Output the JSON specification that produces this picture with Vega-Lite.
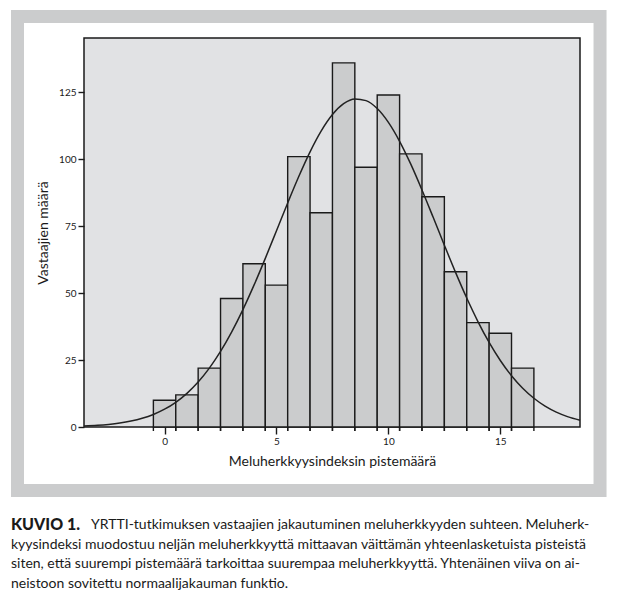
{
  "$schema": "https://vega.github.io/schema/vega-lite/v6.json",
  "background": "white",
  "padding": {"left": 10, "top": 9, "right": 5, "bottom": 1},
  "spacing": 17,
  "config": {"font": "Lato"},
  "datasets": {
    "bars": [
      {"bin_start": -0.5, "bin_end": 0.5, "count": 10},
      {"bin_start": 0.5, "bin_end": 1.5, "count": 12},
      {"bin_start": 1.5, "bin_end": 2.5, "count": 22},
      {"bin_start": 2.5, "bin_end": 3.5, "count": 48},
      {"bin_start": 3.5, "bin_end": 4.5, "count": 61},
      {"bin_start": 4.5, "bin_end": 5.5, "count": 53},
      {"bin_start": 5.5, "bin_end": 6.5, "count": 101},
      {"bin_start": 6.5, "bin_end": 7.5, "count": 80},
      {"bin_start": 7.5, "bin_end": 8.5, "count": 136},
      {"bin_start": 8.5, "bin_end": 9.5, "count": 97},
      {"bin_start": 9.5, "bin_end": 10.5, "count": 124},
      {"bin_start": 10.5, "bin_end": 11.5, "count": 102},
      {"bin_start": 11.5, "bin_end": 12.5, "count": 86},
      {"bin_start": 12.5, "bin_end": 13.5, "count": 58},
      {"bin_start": 13.5, "bin_end": 14.5, "count": 39},
      {"bin_start": 14.5, "bin_end": 15.5, "count": 35},
      {"bin_start": 15.5, "bin_end": 16.5, "count": 22}
    ],
    "curve": [
      {"score": -3.6, "fitted": 0.35},
      {"score": -3, "fitted": 0.61},
      {"score": -2.5, "fitted": 0.96},
      {"score": -2, "fitted": 1.47},
      {"score": -1.5, "fitted": 2.21},
      {"score": -1, "fitted": 3.25},
      {"score": -0.5, "fitted": 4.69},
      {"score": 0, "fitted": 6.65},
      {"score": 0.5, "fitted": 9.23},
      {"score": 1, "fitted": 12.57},
      {"score": 1.5, "fitted": 16.78},
      {"score": 2, "fitted": 21.97},
      {"score": 2.5, "fitted": 28.21},
      {"score": 3, "fitted": 35.52},
      {"score": 3.5, "fitted": 43.84},
      {"score": 4, "fitted": 53.07},
      {"score": 4.5, "fitted": 62.99},
      {"score": 5, "fitted": 73.31},
      {"score": 5.5, "fitted": 83.69},
      {"score": 6, "fitted": 93.66},
      {"score": 6.5, "fitted": 102.79},
      {"score": 7, "fitted": 110.61},
      {"score": 7.5, "fitted": 116.71},
      {"score": 8, "fitted": 120.76},
      {"score": 8.5, "fitted": 122.53},
      {"score": 9, "fitted": 121.91},
      {"score": 9.5, "fitted": 118.94},
      {"score": 10, "fitted": 113.77},
      {"score": 10.5, "fitted": 106.72},
      {"score": 11, "fitted": 98.17},
      {"score": 11.5, "fitted": 88.54},
      {"score": 12, "fitted": 78.32},
      {"score": 12.5, "fitted": 67.92},
      {"score": 13, "fitted": 57.76},
      {"score": 13.5, "fitted": 48.17},
      {"score": 14, "fitted": 39.39},
      {"score": 14.5, "fitted": 31.59},
      {"score": 15, "fitted": 24.83},
      {"score": 15.5, "fitted": 19.14},
      {"score": 16, "fitted": 14.47},
      {"score": 16.5, "fitted": 10.73},
      {"score": 17, "fitted": 7.8},
      {"score": 17.5, "fitted": 5.56},
      {"score": 18, "fitted": 3.89},
      {"score": 18.56, "fitted": 2.54}
    ],
    "caption": [
      {"line": 1, "part": "label", "text": "KUVIO 1."},
      {"line": 1, "part": "first", "text": "YRTTI-tutkimuksen vastaajien jakautuminen meluherkkyyden suhteen. Meluherk-"},
      {"line": 2, "part": "body", "text": "kyysindeksi muodostuu neljän meluherkkyyttä mittaavan väittämän yhteenlasketuista pisteistä"},
      {"line": 3, "part": "body", "text": "siten, että suurempi pistemäärä tarkoittaa suurempaa meluherkkyyttä. Yhtenäinen viiva on ai-"},
      {"line": 4, "part": "body", "text": "neistoon sovitettu normaalijakauman funktio."}
    ]
  },
  "vconcat": [
    {
      "width": 496,
      "height": 389,
      "view": {"fill": "#e1e2e4", "stroke": "#1a1a1a", "strokeWidth": 1.5},
      "layer": [
        {
          "data": {"values": [{}]},
          "mark": {"type": "rect", "fill": "transparent", "stroke": "#cbcccd", "strokeWidth": 13, "clip": false},
          "encoding": {
            "x": {"datum": -6.571, "type": "quantitative", "scale": {"domain": [-3.6, 18.56], "nice": false, "zero": false}},
            "x2": {"datum": 19.455},
            "y": {"datum": 153.33, "type": "quantitative", "scale": {"domain": [0, 145.3], "nice": false, "zero": false}},
            "y2": {"datum": -23.72}
          }
        },
        {
          "data": {"name": "bars"},
          "mark": {"type": "rect", "fill": "#cbcccd", "stroke": "#1a1a1a", "strokeWidth": 1.4},
          "encoding": {
            "x": {
              "field": "bin_start", "type": "quantitative",
              "scale": {"domain": [-3.6, 18.56], "nice": false, "zero": false},
              "title": "Meluherkkyysindeksin pistemäärä",
              "axis": {
                "values": [0, 5, 10, 15],
                "tickSize": 7,
                "domain": false, "grid": false,
                "tickColor": "#1a1a1a", "tickWidth": 1.4,
                "labelFontSize": 10, "labelColor": "#1a1a1a", "labelPadding": 2,
                "titleFontSize": 14, "titleFontWeight": "normal", "titleColor": "#1a1a1a", "titlePadding": 8
              }
            },
            "x2": {"field": "bin_end"},
            "y": {
              "field": "count", "type": "quantitative",
              "scale": {"domain": [0, 145.3], "nice": false, "zero": false},
              "title": "Vastaajien määrä",
              "axis": {
                "values": [0, 25, 50, 75, 100, 125],
                "tickSize": 6, "domain": false, "grid": false,
                "tickColor": "#1a1a1a", "tickWidth": 1.4,
                "labelFontSize": 10, "labelColor": "#1a1a1a", "labelPadding": 2,
                "titleFontSize": 14, "titleFontWeight": "normal", "titleColor": "#1a1a1a", "titlePadding": 8
              }
            },
            "y2": {"datum": 0}
          }
        },
        {
          "data": {"name": "bars"},
          "mark": {"type": "rule", "color": "#1a1a1a", "strokeWidth": 1.4, "y2Offset": 4, "clip": false},
          "encoding": {
            "x": {"field": "bin_start", "type": "quantitative", "scale": {"domain": [-3.6, 18.56], "nice": false, "zero": false}},
            "y": {"datum": 0, "type": "quantitative", "scale": {"domain": [0, 145.3], "nice": false, "zero": false}},
            "y2": {"datum": 0}
          }
        },
        {
          "data": {"name": "bars"},
          "mark": {"type": "rule", "color": "#1a1a1a", "strokeWidth": 1.4, "y2Offset": 4, "clip": false},
          "encoding": {
            "x": {"field": "bin_end", "type": "quantitative", "scale": {"domain": [-3.6, 18.56], "nice": false, "zero": false}},
            "y": {"datum": 0, "type": "quantitative", "scale": {"domain": [0, 145.3], "nice": false, "zero": false}},
            "y2": {"datum": 0}
          }
        },
        {
          "data": {"name": "curve"},
          "mark": {"type": "line", "color": "#222222", "strokeWidth": 1.5, "interpolate": "monotone"},
          "encoding": {
            "x": {"field": "score", "type": "quantitative", "scale": {"domain": [-3.6, 18.56], "nice": false, "zero": false}},
            "y": {"field": "fitted", "type": "quantitative", "scale": {"domain": [0, 145.3], "nice": false, "zero": false}}
          }
        }
      ]
    },
    {
      "width": 496,
      "height": 79,
      "view": {"stroke": null, "fill": null},
      "data": {"name": "caption"},
      "encoding": {
        "y": {"field": "line", "type": "ordinal", "axis": null},
        "x": {"datum": 0, "type": "quantitative", "scale": {"domain": [0, 1]}, "axis": null},
        "text": {"field": "text"}
      },
      "layer": [
        {
          "transform": [{"filter": "datum.part === 'label'"}],
          "mark": {"type": "text", "align": "left", "baseline": "middle", "fontSize": 16, "fontWeight": 900, "letterSpacing": 4, "dx": -73, "color": "#1a1a1a"}
        },
        {
          "transform": [{"filter": "datum.part === 'first'"}],
          "mark": {"type": "text", "align": "left", "baseline": "middle", "fontSize": 14, "dx": 7, "color": "#1a1a1a"}
        },
        {
          "transform": [{"filter": "datum.part === 'body'"}],
          "mark": {"type": "text", "align": "left", "baseline": "middle", "fontSize": 14, "dx": -73, "color": "#1a1a1a"}
        }
      ]
    }
  ]
}
